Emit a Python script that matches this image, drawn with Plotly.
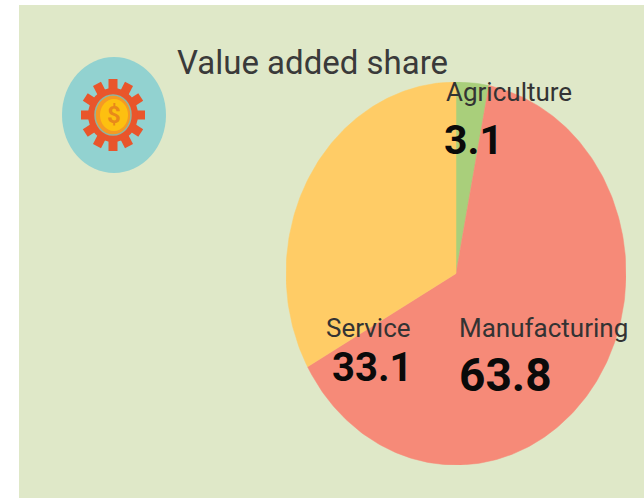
import numpy as np
import plotly.graph_objects as go

W, H = 644, 498

title = "Value added share"
categories = ["Agriculture", "Manufacturing", "Service"]
values = [3.1, 63.8, 33.1]
colors = ["#A9CF7B", "#F68A78", "#FFCC66"]
label_px = [(444, 92), (457, 328), (324, 328)]
value_px = [(442, 140), (457, 375), (330, 367)]
value_sizes = [41, 46, 40]


def px(x):
    return x / W


def py(y):
    return 1 - y / H


fig = go.Figure()

# Wedges of the oval pie, generated from the shares, on an axis pair whose scale gives the oval
edges = np.cumsum([0] + values) / sum(values) * 2 * np.pi
for name, value, color, a0, a1 in zip(categories, values, colors, edges[:-1], edges[1:]):
    t = np.linspace(a0, a1, max(3, int((a1 - a0) * 60)))
    fig.add_trace(go.Scatter(
        x=np.r_[0, np.sin(t), 0], y=np.r_[0, np.cos(t), 0],
        mode="lines", fill="toself", fillcolor=color,
        line=dict(color=color, width=0.5), name=name,
        text=f"{name}: {value}", hoverinfo="text", hoveron="fills",
        showlegend=False,
    ))

shapes = [dict(type="rect", xref="paper", yref="paper", x0=px(19), x1=1, y0=0, y1=py(5),
               fillcolor="#DFE8C8", line_width=0, layer="below")]


def ellipse(cx, cy, rx, ry, fill, line=None, lw=0):
    return dict(type="circle", xref="paper", yref="paper",
                x0=px(cx - rx), x1=px(cx + rx), y0=py(cy + ry), y1=py(cy - ry),
                fillcolor=fill, line=dict(color=line or fill, width=lw), layer="below")


shapes.append(ellipse(114, 115, 52, 58, "#92D2D0"))
gx, gy = 113, 115
for a in np.deg2rad(np.arange(0, 360, 30)):
    shapes.append(dict(type="line", xref="paper", yref="paper",
                       x0=px(gx), y0=py(gy),
                       x1=px(gx + 32 * np.sin(a)), y1=py(gy - 36 * np.cos(a)),
                       line=dict(color="#E9552B", width=9), layer="below"))
shapes.append(ellipse(gx, gy, 25, 27, "#E9552B"))
shapes.append(ellipse(gx, gy, 18, 20, "#F59A23", "#8FB5A0", 1.5))
shapes.append(ellipse(gx + 1, gy, 14, 16, "#FDC010"))

FONT = "Roboto, Arial, sans-serif"
ann = [dict(text=title, x=px(175), y=py(62), font=dict(size=33, color="#3A3A3A", family=FONT))]
for name, value, (lx, ly), (vx, vy), size in zip(categories, values, label_px, value_px, value_sizes):
    ann.append(dict(text=name, x=px(lx), y=py(ly), font=dict(size=26, color="#333333", family=FONT)))
    ann.append(dict(text=f"<b>{value}</b>", x=px(vx), y=py(vy), font=dict(size=size, color="#0A0A0A", family=FONT)))
ann.append(dict(text="<b>$</b>", x=px(gx - 8), y=py(gy), font=dict(size=24, color="#E8891A", family=FONT)))
for a in ann:
    a.update(xref="paper", yref="paper", xanchor="left", yanchor="middle", showarrow=False)

fig.update_layout(
    width=W, height=H, margin=dict(l=0, r=0, t=0, b=0),
    paper_bgcolor="white", plot_bgcolor="rgba(0,0,0,0)",
    shapes=shapes, annotations=ann, showlegend=False,
    xaxis=dict(domain=[px(286), px(626)], range=[-1, 1], visible=False, fixedrange=True),
    yaxis=dict(domain=[py(465), py(82)], range=[-1, 1], visible=False, fixedrange=True),
)
fig.write_html("out.html", config=dict(displayModeBar=False),
               post_script="document.body.style.margin='0';document.body.style.overflow='hidden';")
